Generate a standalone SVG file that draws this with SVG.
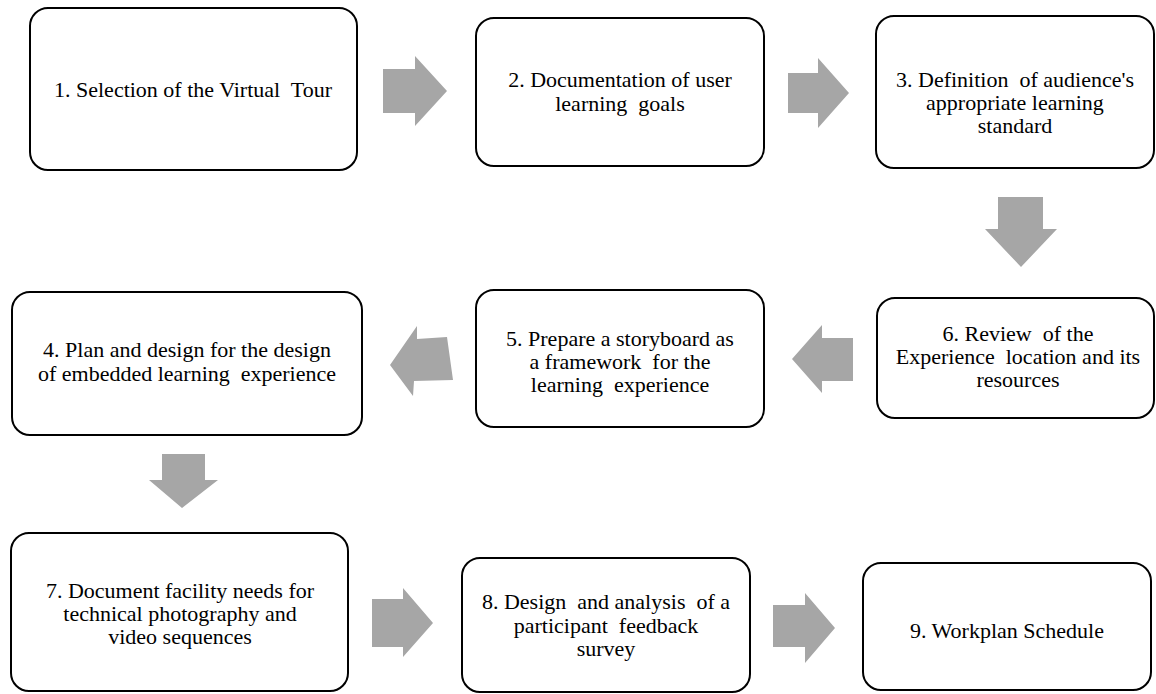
<svg xmlns="http://www.w3.org/2000/svg" width="1156" height="694" viewBox="0 0 1156 694">
<style>
.box{fill:#fff;stroke:#000;stroke-width:2}
.lbl{font-family:"Liberation Serif","Times New Roman",Times,"DejaVu Serif","Noto Serif",Tinos,serif;font-size:22px;fill:#000;text-anchor:middle;white-space:pre}
.arr{fill:#a6a6a6;stroke:none}
</style>
<rect width="1156" height="694" fill="#fff"/>
<g id="connectors">
<polygon class="arr" points="383,69 415,69 415,56 447,91 415,126 415,113 383,113"/>
<polygon class="arr" points="788,73 818,73 818,58 849,93 818,128 818,113 788,113"/>
<polygon class="arr" points="998,197 1043,197 1043,229 1057,229 1021,267 985,229 998,229"/>
<polygon class="arr" points="853,338 822,338 822,325 792,359 822,393 822,381 853,381"/>
<polygon class="arr" points="447,337 417,339 417,326 390,365 413,396 414,381 453,380"/>
<polygon class="arr" points="162,454 205,454 205,480 218,480 182,508 149,480 162,480"/>
<polygon class="arr" points="372,599 403,599 403,588 433,623 403,657 403,647 372,647"/>
<polygon class="arr" points="773,605 805,605 805,593 835,628 805,663 805,647 773,647"/>
</g>
<g id="n1"><rect class="box" x="30" y="8" width="327" height="162" rx="18"/>
<text class="lbl" x="193" y="97">1. Selection of the Virtual  Tour</text></g>
<g id="n2"><rect class="box" x="476" y="18" width="288" height="148" rx="18"/>
<text class="lbl" x="620" y="87">2. Documentation of user</text>
<text class="lbl" x="620" y="111">learning  goals</text></g>
<g id="n3"><rect class="box" x="876" y="16" width="278" height="152" rx="18"/>
<text class="lbl" x="1015" y="87">3. Definition  of audience's</text>
<text class="lbl" x="1015" y="110">appropriate learning</text>
<text class="lbl" x="1015" y="133">standard</text></g>
<g id="n4"><rect class="box" x="12" y="292" width="350" height="143" rx="18"/>
<text class="lbl" x="187" y="357">4. Plan and design for the design</text>
<text class="lbl" x="187" y="381">of embedded learning  experience</text></g>
<g id="n5"><rect class="box" x="476" y="290" width="288" height="137" rx="18"/>
<text class="lbl" x="620" y="346">5. Prepare a storyboard as</text>
<text class="lbl" x="620" y="369">a framework  for the</text>
<text class="lbl" x="620" y="392">learning  experience</text></g>
<g id="n6"><rect class="box" x="877" y="298" width="277" height="120" rx="18"/>
<text class="lbl" x="1018" y="341">6. Review  of the</text>
<text class="lbl" x="1018" y="364">Experience  location and its</text>
<text class="lbl" x="1018" y="387">resources</text></g>
<g id="n7"><rect class="box" x="11" y="533" width="337" height="158" rx="18"/>
<text class="lbl" x="180" y="598">7. Document facility needs for</text>
<text class="lbl" x="180" y="621">technical photography and</text>
<text class="lbl" x="180" y="644">video sequences</text></g>
<g id="n8"><rect class="box" x="462" y="558" width="288" height="134" rx="18"/>
<text class="lbl" x="606" y="609">8. Design  and analysis  of a</text>
<text class="lbl" x="606" y="633">participant  feedback</text>
<text class="lbl" x="606" y="656">survey</text></g>
<g id="n9"><rect class="box" x="863" y="563" width="288" height="127" rx="18"/>
<text class="lbl" x="1007" y="638">9. Workplan Schedule</text></g>
</svg>
